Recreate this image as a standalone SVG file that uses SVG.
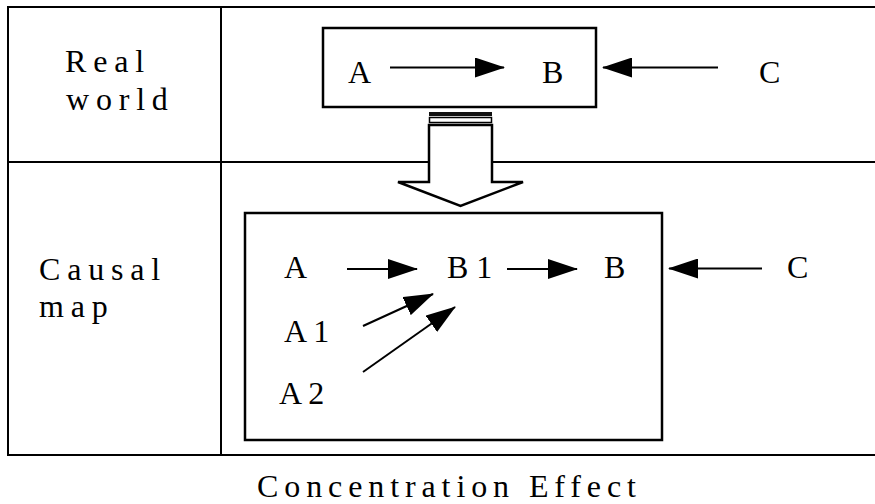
<svg xmlns="http://www.w3.org/2000/svg" width="875" height="504" viewBox="0 0 875 504">
<style>
  text { font-family: "Liberation Serif", "Times New Roman", serif; font-size: 32px; fill: #000; }
  .lab { letter-spacing: 6.8px; }
  .cap { letter-spacing: 5.9px; }
  .grid { stroke: #000; stroke-width: 2; fill: none; }
  .box { stroke: #000; stroke-width: 2.5; fill: #fff; }
  .conn { stroke: #000; stroke-width: 2; fill: none; marker-end: url(#head); }
</style>
<defs>
  <marker id="head" viewBox="0 0 30 20" markerWidth="30" markerHeight="20" markerUnits="userSpaceOnUse" refX="29" refY="10" orient="auto">
    <path d="M0,0 L30,10 L0,20 z" fill="#000"/>
  </marker>
</defs>
<rect width="875" height="504" fill="#fff"/>
<g id="table">
  <line class="grid" x1="7" y1="7" x2="875" y2="7"/>
  <line class="grid" x1="7" y1="162" x2="875" y2="162"/>
  <line class="grid" x1="7" y1="455" x2="875" y2="455"/>
  <line class="grid" x1="8" y1="6" x2="8" y2="456"/>
  <line class="grid" x1="221" y1="6" x2="221" y2="456"/>
</g>
<g id="label-real">
  <text class="lab" x="65" y="72">Real</text>
  <text class="lab" x="66" y="110">world</text>
</g>
<g id="label-causal">
  <text class="lab" x="39" y="280">Causal</text>
  <text class="lab" x="39" y="317">map</text>
</g>
<g id="real-box">
  <rect class="box" x="323" y="28" width="273" height="79"/>
</g>
<g id="transform-arrow">
  <rect x="429" y="112" width="63" height="4" fill="#111"/>
  <rect x="429.5" y="117.5" width="62" height="5" fill="#fff" stroke="#000" stroke-width="1.5"/>
  <path d="M429,125 L492,125 L492,182 L523,182 L460.5,206 L398,182 L429,182 Z" fill="#fff" stroke="#000" stroke-width="2.5" stroke-linejoin="miter"/>
</g>
<g id="causal-box">
  <rect class="box" x="245" y="213" width="417" height="227"/>
</g>
<g id="node-A-real"><text x="348" y="83">A</text></g>
<g id="node-B-real"><text x="542" y="83">B</text></g>
<g id="node-C-real"><text x="759" y="83">C</text></g>
<g id="node-A"><text x="284" y="278">A</text></g>
<g id="node-B1"><text x="447" y="278">B 1</text></g>
<g id="node-B"><text x="604" y="278">B</text></g>
<g id="node-C"><text x="787" y="278">C</text></g>
<g id="node-A1"><text x="284" y="342">A 1</text></g>
<g id="node-A2"><text x="279" y="404">A 2</text></g>
<g id="connectors">
  <line class="conn" x1="390" y1="67.5" x2="504" y2="67.5"/>
  <line class="conn" x1="718" y1="67.5" x2="603" y2="67.5"/>
  <line class="conn" x1="347" y1="269" x2="417" y2="269"/>
  <line class="conn" x1="507" y1="269" x2="577" y2="269"/>
  <line class="conn" x1="762" y1="268.5" x2="669" y2="268.5"/>
  <line class="conn" x1="363" y1="326" x2="433" y2="294"/>
  <line class="conn" x1="363" y1="372" x2="455" y2="307"/>
</g>
<g id="caption">
  <text class="cap" x="257" y="497">Concentration Effect</text>
</g>
</svg>
